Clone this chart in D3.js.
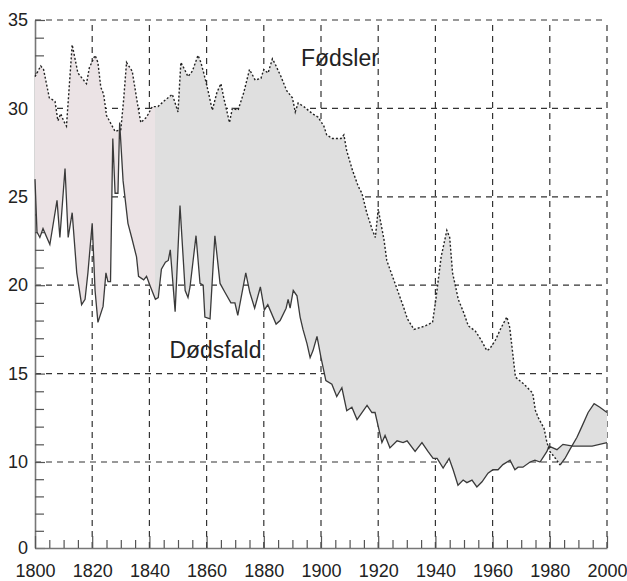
<!DOCTYPE html>
<html>
<head>
<meta charset="utf-8">
<script src="https://cdn.jsdelivr.net/npm/d3@7"></script>
<style>
  body { margin: 0; background: #fff; }
  text { font-family: "Liberation Sans", Arial, sans-serif; fill: #222; }
</style>
</head>
<body>
<svg id="chart" width="627" height="581"></svg>
<script>
// births per 1000 (dotted)
const birthYears = [1800,1802,1803,1805,1807,1808,1809,1810,1811,1813,1815,1816,1818,1819,1821,1822,1823,1824,1825,1826,1828,1830,1831,1832,1834,1836,1837,1839,1841,1843,1845,1848,1850,1851,1852,1853.5,1855,1857,1858,1859,1860.5,1862,1863.6,1865,1866,1868,1869,1871,1873,1875,1877,1879,1880,1881.5,1883,1884,1886,1888,1890,1891,1892,1894,1897,1899,1901,1902,1904,1907,1908,1909,1911,1913,1914.3,1916,1918,1919,1920,1922,1923,1925,1927,1929,1930.2,1932.5,1934.5,1936.5,1939,1940,1941,1942,1944,1945,1946,1948,1950,1951.5,1954,1956,1958,1959,1961,1963,1965,1966,1967,1968,1971,1974,1975,1976,1978,1979,1980,1982,1983.6];
const birthValues = [31.8,32.4,32.2,30.6,30.4,29.3,29.7,29.3,29.0,33.6,32.0,31.8,31.4,32.3,33.0,32.6,31.2,30.8,29.6,29.3,28.7,28.8,30.5,32.6,32.1,30.1,29.2,29.5,30.1,30.1,30.4,30.8,29.8,32.6,32.3,31.8,32.1,33.0,32.6,32.0,31.0,29.9,30.9,31.4,30.6,29.2,30.0,29.9,30.9,32.2,31.6,31.7,32.2,32.0,32.8,32.5,31.8,31.0,30.6,29.8,30.3,30.1,29.7,29.5,29.0,28.5,28.3,28.3,28.5,27.6,26.5,25.6,25.2,24.1,23.1,22.7,24.3,22.6,21.4,20.5,19.6,18.7,18.1,17.5,17.6,17.7,17.9,19.0,20.3,21.6,23.1,22.7,20.7,19.2,18.4,17.7,17.4,16.9,16.3,16.4,16.9,17.6,18.2,17.6,16.2,14.8,14.4,13.9,12.9,12.5,11.9,11.1,10.6,10.2,9.65];
// last stretch of births, drawn solid in the original
const birthYearsLate = [1983.6,1985.3,1987,1989.5,1991.2,1993.4,1995.5,1997.5,2000];
const birthValuesLate = [9.65,10.2,10.7,11.4,12.0,12.8,13.3,13.1,12.8];

// deaths per 1000 (solid)
const deathYears = [1800,1800.7,1801.7,1802.8,1805.2,1807.7,1808.7,1810.5,1811.6,1813,1814.6,1816.3,1817.5,1818.5,1820,1821,1822,1823.8,1824.8,1825.5,1826.4,1827.2,1828,1829,1829.6,1830.8,1832.5,1833.8,1835.5,1836.2,1838,1839,1840.4,1842.1,1843.1,1844.2,1845.6,1846.6,1847.3,1849,1850.7,1852.5,1853.5,1854.2,1856.3,1857.7,1858.8,1859.4,1861.2,1862.9,1864.7,1866.4,1868.5,1869.9,1870.9,1873.7,1875.1,1876.8,1878.8,1880.2,1881.4,1884.3,1885.7,1887.8,1888.5,1889.2,1890.3,1891.6,1892.7,1893.7,1895.1,1896.2,1897.2,1898.6,1900,1901.7,1903.8,1905.5,1907.3,1909,1910.8,1912.6,1916.1,1917.8,1918.9,1921.3,1922.4,1924.1,1926.6,1928.7,1930.1,1932.9,1935.3,1937.4,1939.2,1940.6,1942.7,1944.8,1946.2,1947.9,1949.7,1951,1952.8,1954.5,1956.3,1958.4,1960.1,1961.9,1963.6,1966.1,1967.8,1968.9,1970.6,1973.1,1974.8,1976.6,1979,1979.7,1982.5,1984.6,1988.1,1994.8,2000];
const deathValues = [26.0,23.0,22.7,23.2,22.3,24.8,22.7,26.6,22.7,24.1,20.7,18.9,19.2,20.7,23.5,19.7,17.9,18.8,20.7,20.2,20.2,28.3,25.2,25.2,29.2,25.9,23.5,22.7,21.6,20.5,20.3,20.5,19.9,19.2,19.3,20.9,21.3,21.4,22.0,18.5,24.5,19.7,19.3,19.9,22.8,20.1,20.0,18.2,18.1,22.8,20.1,19.6,19.0,19.0,18.3,20.7,19.6,18.7,19.9,18.6,18.9,17.8,18.0,18.7,19.2,18.7,19.7,19.4,18.2,17.5,16.7,15.9,16.3,17.1,15.9,14.6,14.4,13.7,14.2,12.9,13.1,12.4,13.2,12.8,12.8,11.1,11.5,10.8,11.2,11.1,11.2,10.6,11.1,10.6,10.2,10.2,9.3,10.2,9.1,7.3,7.9,7.6,7.9,7.1,7.7,8.7,9.1,9.1,9.7,10.1,9.1,9.4,9.4,10.0,10.1,10.0,10.6,10.9,10.7,11.0,10.9,10.9,11.1];

const xGridYears = [1820,1840,1860,1880,1900,1920,1940,1960,1980,2000];
const xLabelYears = [1800,1820,1840,1860,1880,1900,1920,1940,1960,1980,2000];
const yLabels = [0,10,15,20,25,30,35];
const yGrid = [10,15,20,25,30,35];

const svg = d3.select('#chart');

// the y axis is squeezed below 10 in the original
const x = d3.scaleLinear().domain([1800, 2000]).range([35, 607]);
const y = d3.scaleLinear().domain([0, 10, 35]).range([548, 462, 20]);

const births = birthYears.map((yr, i) => [yr, birthValues[i]]);
const birthsLate = birthYearsLate.map((yr, i) => [yr, birthValuesLate[i]]);
const deaths = deathYears.map((yr, i) => [yr, deathValues[i]]);

const line = d3.line().x(d => x(d[0])).y(d => y(d[1]));

// grid
const grid = svg.append('g')
  .attr('stroke', '#333').attr('stroke-width', 1.2).attr('stroke-dasharray', '6,5').attr('fill', 'none');
grid.selectAll('line.h').data(yGrid).join('line')
  .attr('x1', x(1800)).attr('x2', x(2000)).attr('y1', d => y(d)).attr('y2', d => y(d));
grid.selectAll('line.v').data(xGridYears).join('line')
  .attr('x1', d => x(d)).attr('x2', d => x(d)).attr('y1', y(0)).attr('y2', y(35));

// minor ticks
const yMinor = d3.range(2, 10, 2).concat(d3.range(11, 35).filter(v => v % 5 !== 0));
const xMinor = d3.range(1805, 2000, 5).filter(v => v % 20 !== 0);

svg.append('g').attr('transform', `translate(${x(1800)},0)`)
  .call(d3.axisLeft(y).tickValues(yLabels).tickSizeInner(-10).tickSizeOuter(0).tickPadding(7));
svg.append('g').attr('transform', `translate(${x(1800)},0)`)
  .call(d3.axisLeft(y).tickValues(yMinor).tickFormat('').tickSizeInner(-9).tickSizeOuter(0))
  .select('.domain').remove();

svg.append('g').attr('transform', `translate(0,${y(0)})`)
  .call(d3.axisBottom(x).tickValues(xLabelYears).tickFormat(d3.format('d')).tickSizeInner(-12).tickSizeOuter(0).tickPadding(16));
svg.append('g').attr('transform', `translate(0,${y(0)})`)
  .call(d3.axisBottom(x).tickValues(xMinor).tickFormat('').tickSizeInner(-8).tickSizeOuter(0))
  .select('.domain').remove();

svg.selectAll('.tick line').attr('stroke', '#555').attr('stroke-width', 1.2);
svg.selectAll('.domain').attr('stroke', '#777').attr('stroke-width', 1.6);
svg.selectAll('.tick text').attr('font-size', 18).attr('fill', '#222')
  .style('font-family', '"Liberation Sans", Arial, sans-serif');

// fill between births and deaths: pinkish on the left, grey after
const defs = svg.append('defs');
const cut = (x(1842) - x(1800)) / (x(2000) - x(1800));
const grad = defs.append('linearGradient').attr('id', 'gap')
  .attr('gradientUnits', 'userSpaceOnUse')
  .attr('x1', x(1800)).attr('x2', x(2000)).attr('y1', 0).attr('y2', 0);
grad.append('stop').attr('offset', 0).attr('stop-color', '#ebe3e5');
grad.append('stop').attr('offset', cut).attr('stop-color', '#ebe3e5');
grad.append('stop').attr('offset', cut).attr('stop-color', '#dfdfdf');
grad.append('stop').attr('offset', 1).attr('stop-color', '#dfdfdf');

const outline = births.concat(birthsLate.slice(1), deaths.slice().reverse());
svg.append('path')
  .attr('d', line(outline) + 'Z')
  .attr('fill', 'url(#gap)');

// lines
svg.append('path').attr('d', line(deaths))
  .attr('fill', 'none').attr('stroke', '#3a3a3a').attr('stroke-width', 1.3);
svg.append('path').attr('d', line(births))
  .attr('fill', 'none').attr('stroke', '#222').attr('stroke-width', 1.4).attr('stroke-dasharray', '2,2');
svg.append('path').attr('d', line(birthsLate))
  .attr('fill', 'none').attr('stroke', '#3a3a3a').attr('stroke-width', 1.3);

// series labels
svg.append('text').attr('x', x(1893)).attr('y', y(32.4)).attr('font-size', 23).text('Fødsler');
svg.append('text').attr('x', x(1847)).attr('y', y(15.9)).attr('font-size', 23).text('Dødsfald');
</script>
</body>
</html>
